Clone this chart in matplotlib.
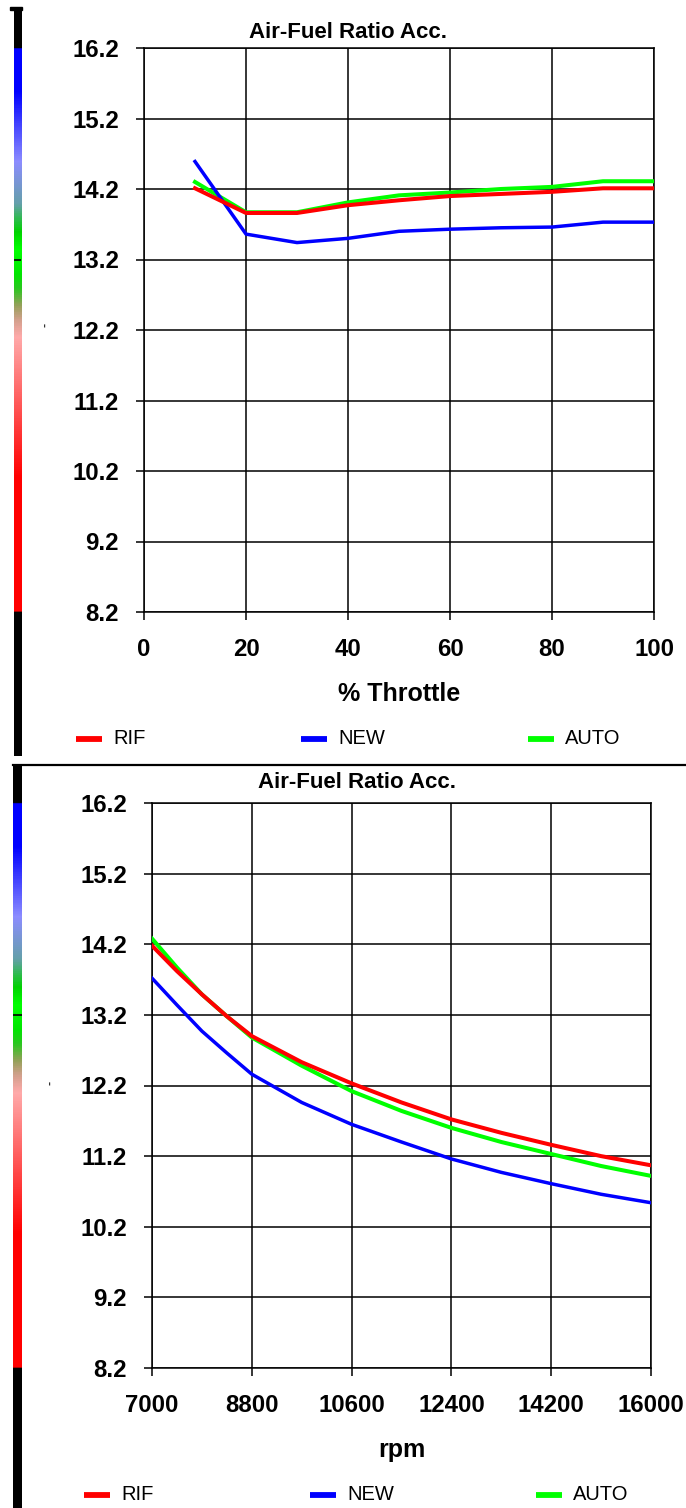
import matplotlib

matplotlib.use("Agg")
import matplotlib.pyplot as plt
import numpy as np
from matplotlib.colors import LinearSegmentedColormap, Normalize
from matplotlib.lines import Line2D
from matplotlib.patches import Rectangle

W, H = 686, 1508

chart_title = "Air-Fuel Ratio Acc."
series_names = ["RIF", "NEW", "AUTO"]
series_colors = ["#ff0000", "#0000ff", "#00ff00"]

afr_ticks = [8.2, 9.2, 10.2, 11.2, 12.2, 13.2, 14.2, 15.2, 16.2]

# top chart: AFR vs % throttle
throttle = [10, 20, 30, 40, 50, 60, 70, 80, 90, 100]
throttle_rif = [14.21, 13.86, 13.86, 13.97, 14.04, 14.10, 14.13, 14.16, 14.21, 14.21]
throttle_new = [14.59, 13.56, 13.44, 13.50, 13.60, 13.63, 13.65, 13.66, 13.73, 13.73]
throttle_auto = [14.30, 13.87, 13.87, 14.01, 14.11, 14.15, 14.20, 14.23, 14.31, 14.31]
throttle_ticks = [0, 20, 40, 60, 80, 100]

# bottom chart: AFR vs rpm
rpm = [7000, 7450, 7900, 8350, 8800, 9700, 10600, 11500, 12400, 13300, 14200, 15100, 16000]
rpm_rif = [14.18, 13.82, 13.49, 13.18, 12.90, 12.53, 12.23, 11.96, 11.72, 11.53, 11.36, 11.20, 11.07]
rpm_new = [13.72, 13.34, 12.97, 12.66, 12.36, 11.96, 11.65, 11.40, 11.16, 10.97, 10.81, 10.66, 10.54]
rpm_auto = [14.28, 13.87, 13.49, 13.18, 12.88, 12.48, 12.12, 11.84, 11.60, 11.40, 11.23, 11.06, 10.92]
rpm_ticks = [7000, 8800, 10600, 12400, 14200, 16000]

# colour strip on the left (AFR value -> colour)
strip_afr = [8.2, 10.1, 10.7, 11.4, 12.1, 12.35, 12.55, 12.8, 13.0, 13.35, 13.6, 14.0, 14.6, 15.6, 16.2]
strip_rgb = [
    (255, 0, 0), (255, 0, 0), (255, 50, 50), (255, 110, 110), (255, 170, 170),
    (210, 160, 140), (150, 160, 90), (40, 200, 30), (0, 230, 0), (0, 255, 0),
    (0, 210, 0), (100, 160, 170), (140, 140, 255), (0, 0, 255), (0, 0, 255),
]
strip_mark = 13.2

plt.rcParams["font.family"] = ["Liberation Sans", "DejaVu Sans"]
plt.rcParams["font.weight"] = "bold"


def px_axes(fig, left, top, right, bottom, **kw):
    return fig.add_axes([left / W, 1 - bottom / H, (right - left) / W, (bottom - top) / H], **kw)


def fx(x):
    return x / W


def fy(y):
    return 1 - y / H


lo, hi = afr_ticks[0], afr_ticks[-1]
cmap = LinearSegmentedColormap.from_list(
    "afr",
    [((a - lo) / (hi - lo), tuple(c / 255 for c in rgb)) for a, rgb in zip(strip_afr, strip_rgb)],
).with_extremes(under="black", over="black")


def draw_panel(fig, plot_box, strip_box, x, ys, xticks, xlabel, title_xy, legend_y, legend_x, dash_xy):
    left, top, right, bottom = plot_box
    ax = px_axes(fig, left, top, right, bottom)
    for idx in [2, 1, 0]:
        lw = 2.5 if idx == 1 else 2.9
        ax.plot(x, ys[idx], color=series_colors[idx], lw=lw, zorder=3 + (idx == 0))
    ax.set_xlim(xticks[0], xticks[-1])
    ax.set_ylim(lo, hi)
    ax.set_xticks(xticks, labels=[str(t) for t in xticks])
    ax.set_yticks(afr_ticks, labels=[f"{v:.1f}" for v in afr_ticks])
    ax.tick_params(direction="out", length=6, width=1.1, pad=12, labelsize=17.3, colors="black")
    ax.tick_params(axis="x", pad=13)
    ax.grid(True, color="black", lw=1.1)
    for s in ax.spines.values():
        s.set_linewidth(1.1)
    ax.set_xlabel(xlabel, fontsize=18, fontweight="bold", labelpad=15)

    # left colour strip, same AFR scale as the plot
    sl, st, sr, sb = strip_box
    ppu = (bottom - top) / (hi - lo)
    a_top = hi + (top - st) / ppu
    a_bot = lo - (sb - bottom) / ppu
    sax = px_axes(fig, sl, st, sr, sb)
    vals = np.linspace(a_bot, a_top, 1200)
    sax.imshow(vals[:, None], extent=[0, 1, a_bot, a_top], origin="lower", aspect="auto",
               cmap=cmap, norm=Normalize(lo, hi), interpolation="bilinear")
    sax.axhline(strip_mark, color="black", lw=1.2)
    sax.set_xlim(0, 1)
    sax.set_ylim(a_bot, a_top)
    sax.axis("off")

    fig.text(fx(title_xy[0]), fy(title_xy[1]), chart_title, ha="center", va="center",
             fontsize=16, fontweight="bold")
    fig.text(fx(dash_xy[0]), fy(dash_xy[1]), "-", ha="center", va="center", rotation=90,
             fontsize=9, color="#333333")

    for name, color, lx in zip(series_names, series_colors, legend_x):
        fig.add_artist(Line2D([fx(lx), fx(lx + 26)], [fy(legend_y)] * 2, color=color, lw=4.2,
                              solid_capstyle="butt", transform=fig.transFigure))
        fig.text(fx(lx + 37), fy(legend_y), name, ha="left", va="center", fontsize=14.5,
                 fontweight="normal")
    return ax


fig = plt.figure(figsize=(W / 100, H / 100), dpi=100)
fig.patch.set_facecolor("white")

draw_panel(fig, (144, 48, 654, 612), (14, 9, 21, 756), throttle,
           [throttle_rif, throttle_new, throttle_auto], throttle_ticks, "% Throttle",
           (348, 32), 739, [76, 301, 528], (45, 325))
fig.add_artist(Rectangle((fx(10), fy(10)), fx(12), 3 / H, color="black", transform=fig.transFigure))

draw_panel(fig, (152, 803, 651, 1368), (13, 766, 22, 1508), rpm,
           [rpm_rif, rpm_new, rpm_auto], rpm_ticks, "rpm",
           (357, 782), 1495, [84, 310, 536], (50, 1083))

# separator between the two screenshots
fig.add_artist(Line2D([fx(13), 1], [fy(765)] * 2, color="black", lw=1.6, transform=fig.transFigure))

fig.savefig("out.png", dpi=100, facecolor="white")
